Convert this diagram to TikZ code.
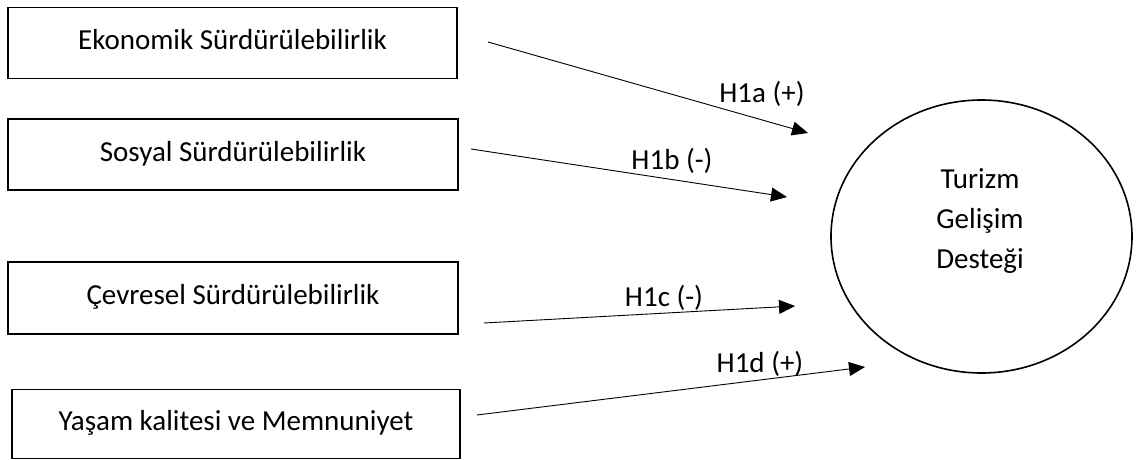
\documentclass[tikz,border=0pt]{standalone}
\usepackage{fontspec}
\setmainfont{Carlito}
\usetikzlibrary{arrows.meta}
\begin{document}
\begin{tikzpicture}[x=1pt,y=-1pt,
  varbox/.style={draw,line width=1.6pt,rectangle,inner sep=0pt,text height=20pt,text depth=7pt,font=\fontsize{29}{34}\selectfont},
  hyparrow/.style={line width=0.9pt,-{Triangle[length=16pt,width=14pt]}},
  hyplabel/.style={inner sep=0pt,font=\fontsize{29}{34}\selectfont},
  outcome/.style={inner sep=0pt,align=center,font=\fontsize{29}{40}\selectfont}]
\useasboundingbox (0,0) rectangle (1136,460);
\fill[white] (0,0) rectangle (1136,460);
\node[varbox,minimum width=449pt,minimum height=71pt] (eko) at (232.5,43) {Ekonomik Sürdürülebilirlik};
\node[varbox,minimum width=450pt,minimum height=71pt] (sos) at (233,154.5) {Sosyal Sürdürülebilirlik};
\node[varbox,minimum width=450pt,minimum height=72pt] (cev) at (233,298) {Çevresel Sürdürülebilirlik};
\node[varbox,minimum width=448pt,minimum height=69pt] (yas) at (236,424) {Yaşam kalitesi ve Memnuniyet};
\draw[line width=1.6pt] (981.5,236.5) ellipse [x radius=150.5, y radius=136.5];
\node[outcome] (tgd) at (980,221) {Turizm\\Gelişim\\Desteği};
\coordinate (a1s) at (488,42);  \coordinate (a1e) at (808,133);
\coordinate (a2s) at (471,149); \coordinate (a2e) at (787,197);
\coordinate (a3s) at (484,323); \coordinate (a3e) at (795,306);
\coordinate (a4s) at (477,415); \coordinate (a4e) at (865,367);
\draw[hyparrow] (a1s) -- (a1e);
\draw[hyparrow] (a2s) -- (a2e);
\draw[hyparrow] (a3s) -- (a3e);
\draw[hyparrow] (a4s) -- (a4e);
\node[hyplabel] (l1) at (762,94) {H1a (+)};
\node[hyplabel] (l2) at (672,161) {H1b (-)};
\node[hyplabel] (l3) at (664,298) {H1c (-)};
\node[hyplabel] (l4) at (760,364) {H1d (+)};
\end{tikzpicture}
\end{document}
